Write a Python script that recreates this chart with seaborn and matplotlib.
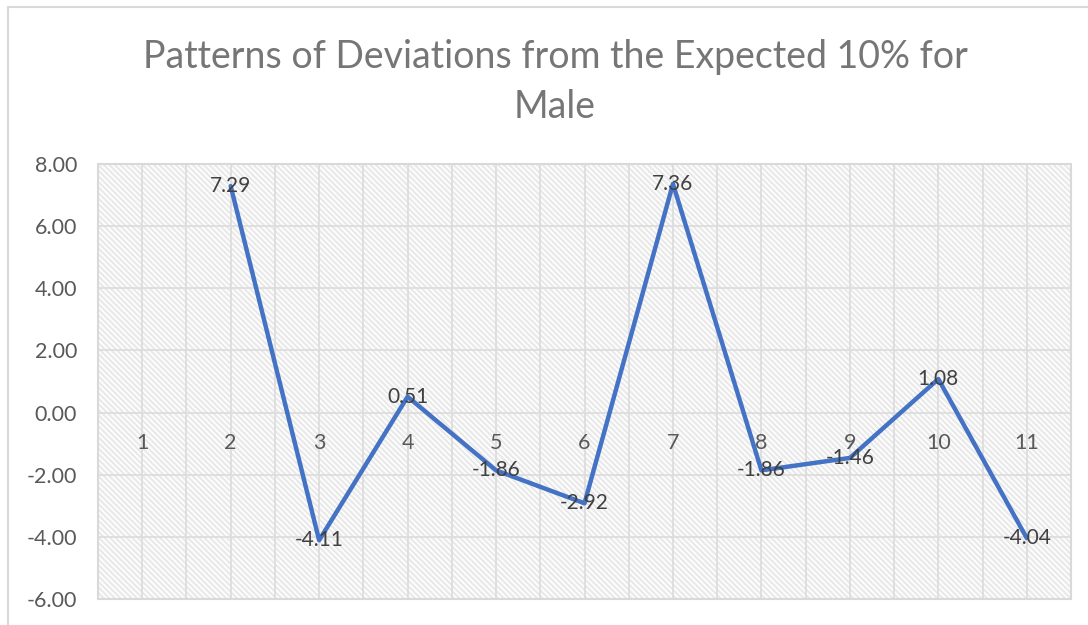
import matplotlib
matplotlib.use('Agg')
import matplotlib.pyplot as plt
import seaborn as sns
import numpy as np
import pandas as pd
from matplotlib.patches import Rectangle

# data
categories = list(range(1, 12))
deviations = [np.nan, 7.29, -4.11, 0.51, -1.86, -2.92, 7.36, -1.86, -1.46, 1.08, -4.04]
y_ticks = [-6, -4, -2, 0, 2, 4, 6, 8]
title = 'Patterns of Deviations from the Expected 10% for\nMale'

df = pd.DataFrame({'category': categories, 'deviation': deviations})

sns.set_theme(style='white')
plt.rcParams['font.family'] = ['Lato', 'DejaVu Sans']
plt.rcParams['hatch.linewidth'] = 1.6

fig = plt.figure(figsize=(10.88, 6.25), dpi=100)
ax = fig.add_axes([98 / 1088, 1 - 599 / 625, (1071 - 98) / 1088, (599 - 164) / 625])

# hatched plot area background
ax.add_patch(Rectangle((0, 0), 1, 1, transform=ax.transAxes, facecolor='white',
                       edgecolor='#E9E9E9', hatch='\\\\\\\\\\\\', lw=0, zorder=0))
ax.add_patch(Rectangle((0, 0), 1, 1, transform=ax.transAxes, fill=False,
                       edgecolor='#D9D9D9', lw=1.5, zorder=1, clip_on=False))

sns.lineplot(data=df, x='category', y='deviation', ax=ax, color='#4472C4',
             linewidth=3.2, zorder=3)

for x, v in zip(categories, deviations):
    if not np.isnan(v):
        ax.text(x, v, f'{v:.2f}', ha='center', va='center', fontsize=15,
                color='#404040', zorder=4)

ax.set_xlim(0.5, 11.5)
ax.set_ylim(-6, 8)
ax.set_yticks(y_ticks)
ax.set_yticklabels([f'{t:.2f}' for t in y_ticks])
ax.set_xticks(categories)
ax.set_xticks(np.arange(0.5, 12, 0.5), minor=True)
ax.set_xlabel('')
ax.set_ylabel('')

ax.grid(which='both', axis='x', color='#DDDDDD', lw=1.3, zorder=1)
ax.grid(which='major', axis='y', color='#DDDDDD', lw=1.3, zorder=1)
ax.set_axisbelow(True)

ax.spines['bottom'].set_position(('data', 0))
for s in ax.spines.values():
    s.set_visible(False)
ax.tick_params(axis='x', which='both', length=0, pad=15, labelsize=15.5, labelcolor='#595959')
ax.tick_params(axis='y', length=0, pad=15, labelsize=15.5, labelcolor='#595959')

fig.text(555 / 1088, 1 - 82 / 625, title, ha='center', va='center', fontsize=27,
         color='#767676', linespacing=1.5)

# outer chart border
fig.add_artist(Rectangle((8 / 1088, -0.1), 1.2, 1 - 7 / 625 + 0.1, transform=fig.transFigure,
                         fill=False, edgecolor='#D9D9D9', lw=1.5))

fig.savefig('out.png', dpi=100)
